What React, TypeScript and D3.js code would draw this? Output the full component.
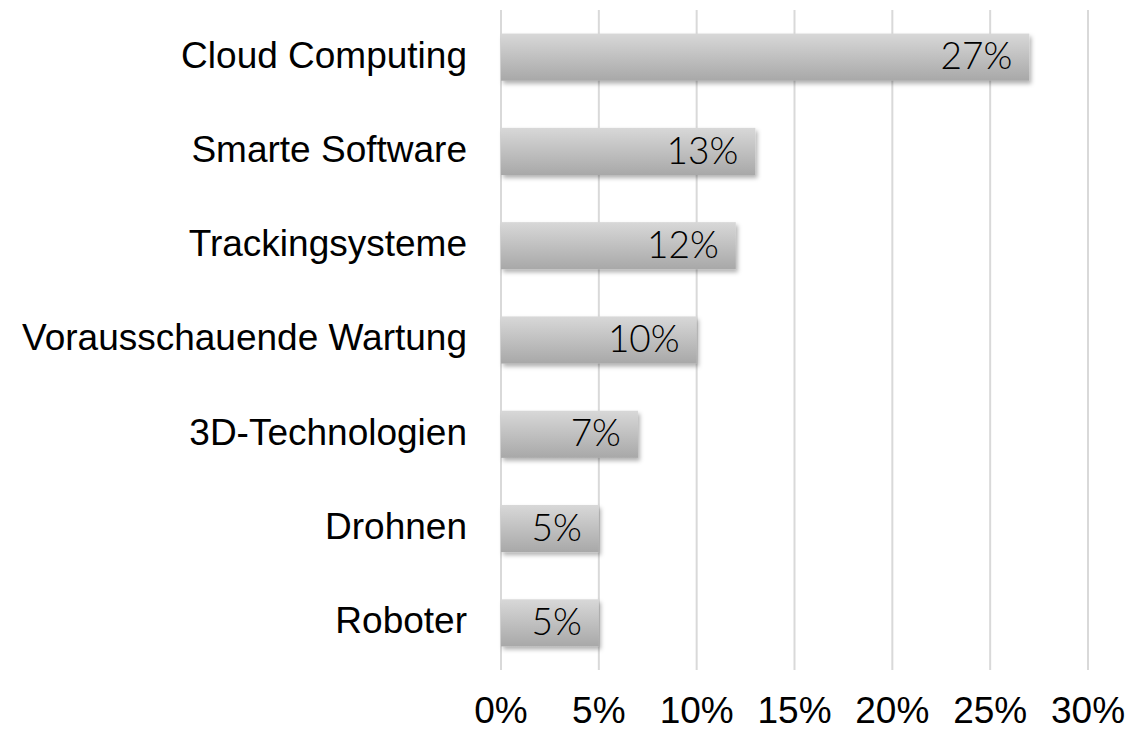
import React from 'react'
import * as d3 from 'd3'

const categories = [
  'Cloud Computing',
  'Smarte Software',
  'Trackingsysteme',
  'Vorausschauende Wartung',
  '3D-Technologien',
  'Drohnen',
  'Roboter',
]
const values = [27, 13, 12, 10, 7, 5, 5]
const ticks = [0, 5, 10, 15, 20, 25, 30]

const App = () => {
  const w = 1130
  const h = 731
  const x = d3.scaleLinear().domain([0, 30]).range([501, 1088])
  const y = d3.scaleBand().domain(categories).range([10, 670]).paddingInner(0.5).paddingOuter(0.25)

  return (
    <svg width={w} height={h} style={{position: 'absolute', left: 0, top: 0}}>
      <defs>
        <linearGradient id="barGrad" x1="0" y1="0" x2="0" y2="1">
          <stop offset="0%" stopColor="#d8d8d8" />
          <stop offset="100%" stopColor="#a8a8a8" />
        </linearGradient>
        <filter id="shadow" x="-5%" y="-20%" width="115%" height="160%">
          <feDropShadow dx="2" dy="3" stdDeviation="2" floodColor="#000" floodOpacity="0.3" />
        </filter>
      </defs>
      {ticks.map(t => (
        <line key={t} x1={x(t)} x2={x(t)} y1={10} y2={670} stroke="#d9d9d9" strokeWidth={2} />
      ))}
      {categories.map((c, i) => (
        <g key={c}>
          <rect
            x={x(0)}
            y={y(c)}
            width={x(values[i]) - x(0)}
            height={y.bandwidth()}
            fill="url(#barGrad)"
            filter="url(#shadow)"
          />
          <text
            x={x(values[i]) - 17}
            y={y(c)! + y.bandwidth() / 2}
            dy="0.33em"
            textAnchor="end"
            fontFamily="Lato, 'Open Sans', sans-serif"
            fontWeight={300}
            fontSize={37}
            fill="#000"
          >
            {values[i]}%
          </text>
          <text
            x={467}
            y={y(c)! + y.bandwidth() / 2}
            dy="0.28em"
            textAnchor="end"
            fontFamily="'Liberation Sans', Arial, sans-serif"
            fontSize={37}
            fill="#000"
          >
            {c}
          </text>
        </g>
      ))}
      {ticks.map(t => (
        <text
          key={t}
          x={x(t)}
          y={723}
          textAnchor="middle"
          fontFamily="'Liberation Sans', Arial, sans-serif"
          fontSize={37}
          fill="#000"
        >
          {t}%
        </text>
      ))}
    </svg>
  )
}

export default App
